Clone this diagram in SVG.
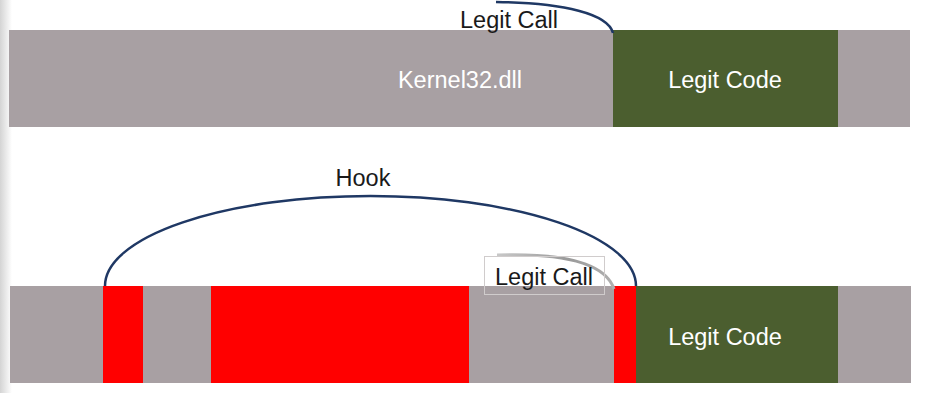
<svg xmlns="http://www.w3.org/2000/svg" width="929" height="393" viewBox="0 0 929 393">
<defs>
<linearGradient id="shadow" x1="0" y1="0" x2="1" y2="0">
<stop offset="0" stop-color="#d4d4d4"/>
<stop offset="1" stop-color="#ffffff"/>
</linearGradient>
<linearGradient id="swoosh" x1="0" y1="0" x2="1" y2="0">
<stop offset="0" stop-color="#c8c8c8"/>
<stop offset="0.6" stop-color="#9a9a9a"/>
<stop offset="1" stop-color="#b0b0b0"/>
</linearGradient>
</defs>
<style>
.bg{fill:#a8a0a3}
.green{fill:#4b5e2f}
.red{fill:#ff0000}
.lbl{font-family:"Liberation Sans",Arial,sans-serif;font-size:23.5px}
.white{fill:#ffffff}
.dark{fill:#1a1a1a}
.arc{fill:none;stroke:#1f3864;stroke-width:2.5}
</style>
<rect width="929" height="393" fill="#ffffff"/>
<rect x="0" y="0" width="12" height="393" fill="url(#shadow)"/>
<g id="top-bar">
<rect class="bg" x="9" y="30" width="901" height="97"/>
<text class="lbl white" x="460" y="88" text-anchor="middle">Kernel32.dll</text>
</g>
<g id="top-legit-code">
<rect class="green" x="613" y="30" width="225" height="97"/>
<text class="lbl white" x="725" y="88" text-anchor="middle">Legit Code</text>
</g>
<g id="bottom-bar">
<rect class="bg" x="10" y="286" width="901" height="97"/>
<rect class="red" x="103" y="286" width="40" height="97"/>
<rect class="red" x="211" y="286" width="258" height="97"/>
<rect class="red" x="614" y="286" width="22" height="97"/>
</g>
<g id="bottom-legit-code">
<rect class="green" x="636" y="286" width="202" height="97"/>
<text class="lbl white" x="725" y="345" text-anchor="middle">Legit Code</text>
</g>
<g id="connectors">
<path class="arc" d="M496,2 C565,3 608,14 613,33"/>
<path class="arc" d="M105,286 A265.5 90 0 0 1 636,286"/>
<path d="M497,255 C560,253 605,262 614,289" fill="none" stroke="url(#swoosh)" stroke-width="3"/>
</g>
<g id="top-legit-call">
<text class="lbl dark" x="509" y="28" text-anchor="middle">Legit Call</text>
</g>
<g id="hook-label">
<text class="lbl dark" x="363" y="186" text-anchor="middle">Hook</text>
</g>
<g id="bottom-legit-call">
<rect x="484.5" y="256.5" width="120" height="38" fill="none" stroke="#d0cccc" stroke-width="1"/>
<text class="lbl dark" x="544" y="285" text-anchor="middle">Legit Call</text>
</g>
</svg>
